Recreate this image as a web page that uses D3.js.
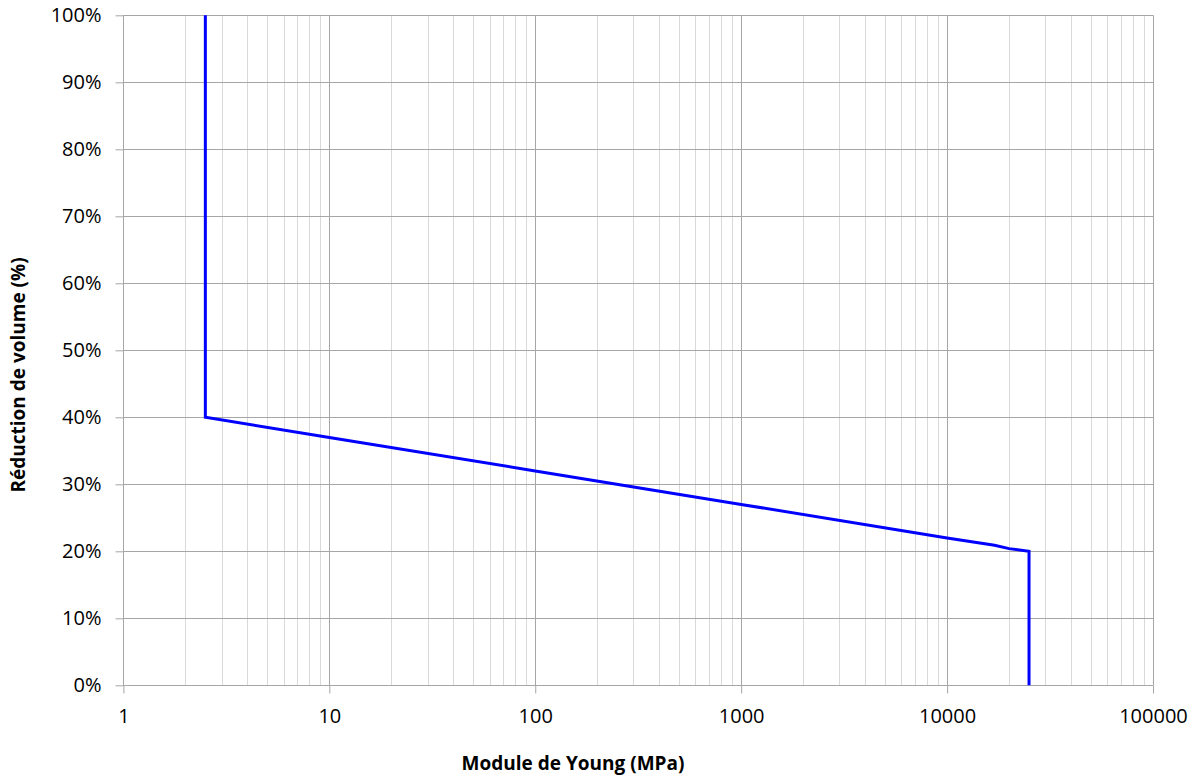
<!DOCTYPE html>
<html><head><meta charset="utf-8">
<script src="https://cdn.jsdelivr.net/npm/d3@7"></script>
<style>
body{margin:0;background:#fff;}
text{font-family:"Open Sans",sans-serif;fill:#000;}
</style></head>
<body>
<svg id="chart" width="1198" height="776"></svg>
<script>
// Data
const youngModulus = [2.5, 2.5, 10, 100, 1000, 10000, 17000, 20000, 25000, 25000];
const volumeReduction = [100, 40, 37, 32, 27, 22, 20.9, 20.4, 20, 0];
const xTickValues = [1, 10, 100, 1000, 10000, 100000];
const yTickValues = [0, 10, 20, 30, 40, 50, 60, 70, 80, 90, 100];
const xTitle = "Module de Young (MPa)";
const yTitle = "Réduction de volume (%)";

const svg = d3.select("#chart");
const m = {left:123.4, right:1153, top:15.3, bottom:685.3};
const x = d3.scaleLog().domain([1,100000]).range([m.left, m.right]);
const y = d3.scaleLinear().domain([0,100]).range([m.bottom, m.top]);

// minor vertical grid
const minor = [];
for (let d = 1; d < 100000; d *= 10) for (let k = 2; k <= 9; k++) minor.push(d*k);
svg.append("g").selectAll("line").data(minor).join("line")
  .attr("x1", d => Math.round(x(d))+0.5).attr("x2", d => Math.round(x(d))+0.5)
  .attr("y1", m.top).attr("y2", m.bottom)
  .attr("stroke", "#d9d9d9").attr("stroke-width", 1);

// major vertical grid
svg.append("g").selectAll("line").data(xTickValues).join("line")
  .attr("x1", d => Math.round(x(d))+0.5).attr("x2", d => Math.round(x(d))+0.5)
  .attr("y1", m.top).attr("y2", m.bottom)
  .attr("stroke", "#a6a6a6").attr("stroke-width", 1);

// horizontal grid
svg.append("g").selectAll("line").data(yTickValues).join("line")
  .attr("x1", m.left).attr("x2", m.right)
  .attr("y1", d => Math.round(y(d))+0.5).attr("y2", d => Math.round(y(d))+0.5)
  .attr("stroke", "#a6a6a6").attr("stroke-width", 1);

// x axis
const xAxis = d3.axisBottom(x).tickValues(xTickValues).tickFormat(d3.format("d")).tickSize(8).tickPadding(15);
const gx = svg.append("g").attr("transform", `translate(0,${Math.round(y(0))+0.5})`).call(xAxis);
gx.select(".domain").attr("stroke", "#a6a6a6").attr("d", `M${m.left},0H${m.right}`);
gx.selectAll(".tick line").attr("stroke", "#a6a6a6");
gx.selectAll(".tick text").style("font-size", "20px").attr("font-family", null);

// y axis
const yAxis = d3.axisLeft(y).tickValues(yTickValues).tickFormat(d => d + "%").tickSize(8).tickPadding(14);
const gy = svg.append("g").attr("transform", `translate(${Math.round(x(1))+0.5},0)`).call(yAxis);
gy.select(".domain").attr("stroke", "#a6a6a6").attr("d", `M0,${m.top}V${m.bottom}`);
gy.selectAll(".tick line").attr("stroke", "#a6a6a6");
gy.selectAll(".tick text").style("font-size", "20px").attr("font-family", null);

// line
const pts = youngModulus.map((v,i) => [v, volumeReduction[i]]);
svg.append("path").datum(pts)
  .attr("fill", "none").attr("stroke", "#0000ff").attr("stroke-width", 3)
  .attr("stroke-linejoin", "miter")
  .attr("d", d3.line().x(d => x(d[0])).y(d => y(d[1])));

// titles
svg.append("text").attr("x", 573).attr("y", 770).attr("text-anchor", "middle")
  .style("font-size", "19px").style("font-weight", "bold").text(xTitle);
svg.append("text").attr("transform", "translate(25,375) rotate(-90)").attr("text-anchor", "middle")
  .style("font-size", "19px").style("font-weight", "bold").text(yTitle);
</script>
</body></html>
